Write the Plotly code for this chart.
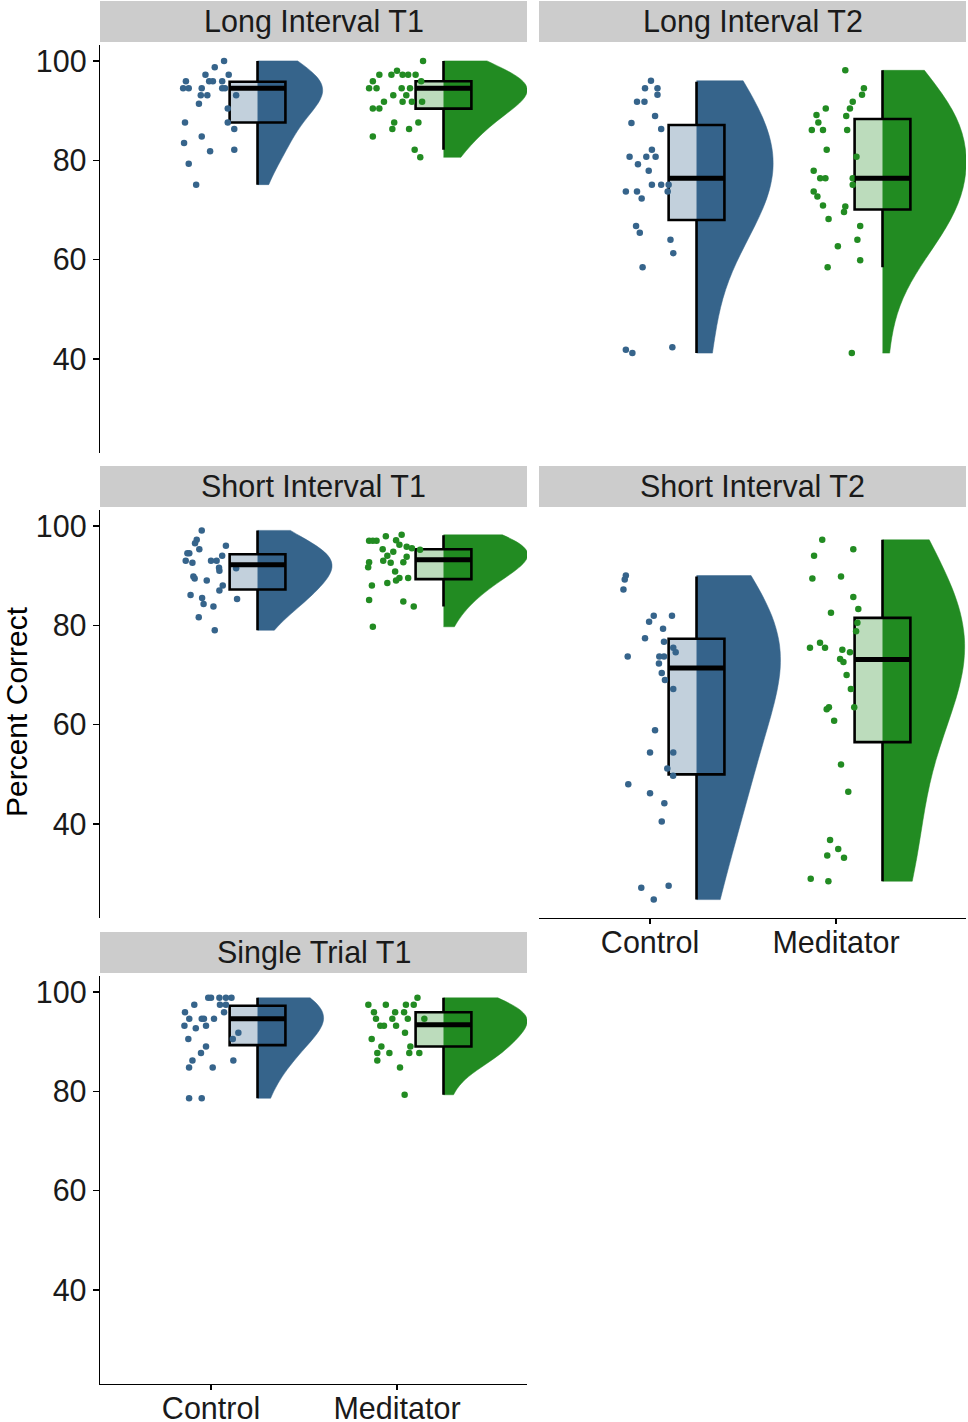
import numpy as np
from plotly.graph_objects import Figure, Violin, Box, Scatter

panels = ['Long Interval T1', 'Long Interval T2', 'Short Interval T1',
          'Short Interval T2', 'Single Trial T1']
groups = ['Control', 'Meditator']
y_ticks = [40, 60, 80, 100]

# percent correct of every participant, and the sideways jitter of its dot
long_t1_control = [100, 98.7, 97.2, 97.2, 95.9, 95.9, 95.9, 95.9, 94.5, 94.5, 94.5, 94.5,
                   94.5, 93.1, 93.1, 93.1, 91.4, 90.4, 87.6, 87.6, 86.3, 84.8, 83.5, 81.8,
                   82.1, 79.3, 75.1]
long_t1_control_jitter = [0.07, 0.02, -0.03, 0.095, -0.135, -0.01, 0.01, 0.06, -0.15, -0.12,
                          -0.05, 0.06, 0.075, -0.055, -0.02, 0.135, -0.065, 0.09, -0.14, 0.09,
                          0.125, -0.05, -0.145, -0.005, 0.125, -0.12, -0.08]
long_t1_meditator = [100, 97.2, 97.2, 98.0, 97.2, 97.2, 97.2, 95.9, 94.5, 94.5, 94.5, 94.5,
                     95.9, 93.1, 93.1, 91.8, 91.8, 91.8, 91.8, 90.4, 90.4, 87.6, 87.6, 86.3,
                     86.3, 84.8, 82.1, 80.6]
long_t1_meditator_jitter = [0.14, -0.095, -0.03, 0.0, 0.03, 0.06, 0.10, -0.13, -0.15, -0.11,
                            0.025, 0.07, 0.13, -0.02, 0.05, -0.07, 0.03, 0.08, 0.135, -0.13,
                            -0.095, -0.015, 0.115, -0.025, 0.065, -0.13, 0.095, 0.125]

long_t2_control = [96.0, 94.5, 94.5, 93.2, 91.8, 91.8, 88.9, 87.5, 86.3, 82.1, 80.7, 80.7,
                   80.7, 79.2, 77.9, 75.1, 75.1, 75.1, 73.7, 73.7, 73.7, 72.3, 66.8, 65.4,
                   64.0, 61.3, 58.5, 41.9, 41.2, 42.4]
long_t2_control_jitter = [0.005, -0.027, 0.04, 0.04, -0.07, -0.03, 0.027, -0.1, 0.06, 0.01,
                          -0.11, -0.02, 0.03, -0.065, -0.007, 0.01, 0.06, 0.1, -0.13, -0.07,
                          0.095, -0.045, -0.075, -0.055, 0.11, 0.125, -0.04, -0.13, -0.095,
                          0.12]
long_t2_meditator = [98.1, 94.5, 93.2, 91.8, 90.4, 90.4, 89.1, 88.9, 87.6, 86.1, 86.1, 86.1,
                     82.1, 80.7, 77.9, 76.4, 76.4, 76.4, 73.7, 75.1, 72.7, 70.9, 70.7, 69.6,
                     68.2, 66.8, 62.7, 64.0, 59.9, 58.5, 41.2]
long_t2_meditator_jitter = [0.05, 0.15, 0.14, 0.09, -0.055, 0.075, -0.105, 0.055, -0.095,
                            -0.13, -0.07, 0.06, -0.05, 0.11, -0.12, -0.085, -0.057, 0.09,
                            -0.12, 0.09, -0.1, -0.07, 0.05, 0.043, -0.04, 0.13, 0.01, 0.115,
                            0.13, -0.045, 0.085]

short_t1_control = [99.1, 97.2, 96.5, 95.3, 96.0, 94.5, 94.5, 94.0, 93.0, 92.6, 93.0, 93.0,
                    91.6, 91.0, 91.5, 89.8, 89.4, 89.0, 88.0, 87.0, 86.1, 85.5, 84.3, 85.3,
                    83.8, 81.6, 79.0]
short_t1_control_jitter = [-0.05, -0.077, -0.086, -0.063, 0.08, -0.117, -0.127, 0.06, -0.136,
                           -0.1, 0.0, 0.03, 0.043, 0.045, 0.135, -0.095, -0.088, -0.023, 0.063,
                           0.045, -0.11, -0.048, -0.04, 0.14, 0.013, -0.066, 0.02]
short_t1_meditator = [98.2, 97.9, 97.0, 97.0, 97.0, 97.1, 96.2, 95.3, 95.8, 95.5, 94.0, 94.8,
                      95.2, 93.0, 92.6, 92.7, 91.7, 92.7, 93.8, 90.8, 89.5, 89.0, 89.5, 88.5,
                      88.0, 85.1, 84.8, 83.8, 79.7]
short_t1_meditator_jitter = [0.025, -0.06, -0.15, -0.11, -0.13, -0.005, 0.013, -0.077, 0.052,
                             0.08, -0.052, -0.02, 0.124, -0.074, -0.034, -0.15, -0.155, 0.034,
                             0.052, -0.01, 0.013, -0.005, 0.06, -0.052, -0.135, -0.15, 0.034,
                             0.09, -0.13]

short_t2_control = [90.0, 89.2, 87.2, 81.9, 81.9, 80.7, 79.3, 77.4, 76.7, 75.5, 74.6, 73.7,
                    73.7, 73.7, 72.3, 70.4, 69.0, 67.2, 58.9, 54.4, 54.4, 51.2, 49.7, 48.0,
                    46.2, 44.2, 40.5, 27.2, 27.6, 24.8]
short_t2_control_jitter = [-0.13, -0.136, -0.143, 0.02, 0.118, -0.005, 0.07, -0.027, 0.075,
                           0.125, 0.138, -0.12, 0.05, 0.075, 0.048, 0.063, 0.08, 0.125, 0.027,
                           0.0, 0.125, 0.093, 0.124, -0.117, 0.0, 0.077, 0.063, -0.047, 0.1,
                           0.02]
short_t2_meditator = [97.2, 95.3, 94.0, 89.4, 89.8, 85.7, 83.3, 82.5, 80.5, 78.8, 75.5, 76.5,
                      75.5, 75.1, 74.6, 73.2, 72.6, 70.0, 67.2, 63.5, 63.1, 63.5, 60.8, 52.0,
                      46.5, 36.8, 35.0, 33.7, 33.2, 29.0, 28.5]
short_t2_meditator_jitter = [-0.074, 0.093, -0.118, -0.127, 0.027, 0.093, 0.12, -0.027, 0.115,
                             0.108, -0.14, -0.086, -0.059, 0.034, 0.075, 0.022, 0.04, 0.057,
                             0.08, -0.038, -0.05, 0.098, -0.01, 0.027, 0.066, -0.032, 0.012,
                             -0.047, 0.043, -0.136, -0.041]

single_t1_control = [98.8, 98.8, 98.8, 98.8, 98.8, 97.4, 97.4, 97.4, 95.9, 95.9, 94.6, 94.6,
                     94.6, 94.6, 93.2, 92.7, 93.2, 91.8, 90.5, 90.5, 89.0, 87.7, 86.2, 84.8,
                     86.2, 84.8, 78.6, 78.6]
single_t1_control_jitter = [-0.015, 0.0, 0.045, 0.08, 0.11, 0.048, 0.08, -0.09, 0.07, -0.14,
                            -0.117, -0.05, -0.038, 0.016, -0.143, -0.082, -0.027, 0.147,
                            -0.122, 0.117, -0.027, -0.054, -0.1, -0.118, 0.12, 0.009, -0.118,
                            -0.05]
single_t1_meditator = [98.8, 97.4, 97.4, 97.4, 97.4, 95.9, 95.9, 95.9, 94.6, 94.6, 94.6, 94.6,
                       93.2, 93.2, 93.2, 91.8, 90.5, 89.0, 89.0, 87.7, 87.7, 87.7, 87.7, 86.2,
                       84.8, 79.3]
single_t1_meditator_jitter = [0.11, -0.154, -0.06, 0.048, 0.09, -0.124, -0.01, 0.038, -0.113,
                              -0.025, 0.058, 0.147, -0.09, -0.07, -0.005, 0.043, -0.136, -0.084,
                              0.072, -0.106, -0.041, 0.066, 0.12, -0.106, 0.016, 0.041]

# box statistics: lower whisker, Q1, median, Q3, upper whisker
long_t1_control_box = [75.1, 87.6, 94.5, 95.8, 100]
long_t1_meditator_box = [82.1, 90.4, 94.5, 95.9, 100]
long_t2_control_box = [41.2, 68.0, 76.4, 87.1, 95.8]
long_t2_meditator_box = [58.5, 70.1, 76.4, 88.3, 98.1]
short_t1_control_box = [79.0, 87.2, 92.2, 94.3, 99.1]
short_t1_meditator_box = [83.8, 89.3, 93.2, 95.3, 98.1]
short_t2_control_box = [24.8, 50.0, 71.4, 77.3, 89.8]
short_t2_meditator_box = [28.5, 56.5, 73.1, 81.5, 97.2]
single_t1_control_box = [78.6, 89.3, 94.6, 97.2, 98.8]
single_t1_meditator_box = [79.3, 89.0, 93.4, 95.9, 98.8]

COLOURS = {'Control': ('#36648B', 'rgba(54,100,139,0.3)'),
           'Meditator': ('#228B22', 'rgba(34,139,34,0.3)')}
FONT = 'Liberation Sans, Arial, sans-serif'
W, H = 968, 1422
SMOOTH = 1.4  # extra smoothing of the clouds compared to Silverman's rule


def bandwidth(values):
    """
    Ширина ядра для оцінки щільності: правило Сільвермана, помножене на SMOOTH.
    """
    sample = np.asarray(values, dtype=float)
    return SMOOTH * 1.059 * sample.std(ddof=1) * len(sample) ** -0.2


def main():
    """
    Raincloud-графік: напівскрипка праворуч, ящик з вусами на її краю та
    розсіяні точки ліворуч, п'ять фасетів у сітці 3x2.
    """
    figure = Figure()
    data = {
        'Long Interval T1': [(long_t1_control, long_t1_control_jitter, long_t1_control_box),
                             (long_t1_meditator, long_t1_meditator_jitter, long_t1_meditator_box)],
        'Long Interval T2': [(long_t2_control, long_t2_control_jitter, long_t2_control_box),
                             (long_t2_meditator, long_t2_meditator_jitter, long_t2_meditator_box)],
        'Short Interval T1': [(short_t1_control, short_t1_control_jitter, short_t1_control_box),
                              (short_t1_meditator, short_t1_meditator_jitter, short_t1_meditator_box)],
        'Short Interval T2': [(short_t2_control, short_t2_control_jitter, short_t2_control_box),
                              (short_t2_meditator, short_t2_meditator_jitter, short_t2_meditator_box)],
        'Single Trial T1': [(single_t1_control, single_t1_control_jitter, single_t1_control_box),
                            (single_t1_meditator, single_t1_meditator_jitter, single_t1_meditator_box)],
    }
    # half-width of every cloud, as drawn in the reference
    spread = {'Long Interval T1': (0.35, 0.45), 'Long Interval T2': (0.41, 0.45),
              'Short Interval T1': (0.40, 0.45), 'Short Interval T2': (0.45, 0.44),
              'Single Trial T1': (0.355, 0.45)}
    # (row, column) of every facet
    grid = {'Long Interval T1': (1, 1), 'Long Interval T2': (1, 2),
            'Short Interval T1': (2, 1), 'Short Interval T2': (2, 2),
            'Single Trial T1': (3, 1)}
    columns = {1: (100, 527), 2: (539, 966)}
    tops = {1: 45, 2: 510, 3: 976}
    height = 408
    tick_font = {'size': 30.5, 'color': '#1a1a1a', 'family': FONT}
    shapes, annotations = [], []

    for index, panel in enumerate(panels, start=1):
        row, column = grid[panel]
        suffix = '' if index == 1 else str(index)
        left, right = columns[column]
        top = tops[row]
        bottom_axis = panel in ('Short Interval T2', 'Single Trial T1')
        left_axis = column == 1

        for position, group in enumerate(groups, start=1):
            values, jitter, stats = data[panel][position - 1]
            colour, light = COLOURS[group]
            figure.add_trace(Violin(
                x0=position + 0.25, y=values, side='positive', width=2 * spread[panel][position - 1],
                bandwidth=bandwidth(values), spanmode='hard', points=False, fillcolor=colour,
                opacity=1, line={'color': colour, 'width': 0.5}, hoverinfo='skip',
                xaxis='x' + suffix, yaxis='y' + suffix
            ))
            figure.add_trace(Box(
                x=[position + 0.25], lowerfence=[stats[0]], q1=[stats[1]], median=[stats[2]],
                q3=[stats[3]], upperfence=[stats[4]], width=0.3, whiskerwidth=0,
                fillcolor=light, line={'color': 'black', 'width': 2.6}, boxpoints=False,
                hoverinfo='skip', xaxis='x' + suffix, yaxis='y' + suffix
            ))
            figure.add_trace(Scatter(
                x=[position + j for j in jitter], y=values, mode='markers',
                marker={'color': colour, 'size': 6.5}, hoverinfo='skip',
                xaxis='x' + suffix, yaxis='y' + suffix
            ))
            figure.add_trace(Scatter(
                x=[position + 0.1, position + 0.4], y=[stats[2], stats[2]], mode='lines',
                line={'color': 'black', 'width': 5}, hoverinfo='skip',
                xaxis='x' + suffix, yaxis='y' + suffix
            ))

        figure.update_layout({
            'xaxis' + suffix: dict(
                domain=[left / W, right / W], anchor='y' + suffix, type='linear',
                range=[0.403, 2.699], tickvals=[1, 2], ticktext=groups,
                showline=bottom_axis, linecolor='black', linewidth=1.3,
                ticks='outside' if bottom_axis else '', ticklen=5, tickcolor='black',
                tickwidth=1.3, showticklabels=bottom_axis, showgrid=False, zeroline=False,
                tickfont=tick_font, ticklabelstandoff=-8, fixedrange=True
            ),
            'yaxis' + suffix: dict(
                domain=[1 - (top + height) / H, 1 - top / H], anchor='x' + suffix,
                range=[21.1, 103.2], tickvals=y_ticks,
                showline=left_axis, linecolor='black', linewidth=1.3,
                ticks='outside' if left_axis else '', ticklen=6, tickcolor='black',
                tickwidth=1.3, showticklabels=left_axis, showgrid=False, zeroline=False,
                tickfont=tick_font, ticklabelstandoff=0, fixedrange=True
            ),
        })

        shapes.append(dict(
            type='rect', xref='paper', yref='paper', x0=left / W, x1=right / W,
            y0=1 - (top - 3) / H, y1=1 - (top - 44) / H,
            fillcolor='#CCCCCC', line={'width': 0}, layer='below'
        ))
        annotations.append(dict(
            text=panel, xref='paper', yref='paper', x=(left + right) / 2 / W,
            y=1 - (top - 23.5) / H, showarrow=False, xanchor='center', yanchor='middle',
            font={'size': 30.5, 'color': '#1a1a1a', 'family': FONT}
        ))

    annotations.append(dict(
        text='Percent Correct', xref='paper', yref='paper', x=16 / W, y=1 - 712 / H,
        textangle=-90, showarrow=False, xanchor='center', yanchor='middle',
        font={'size': 30, 'color': 'black', 'family': FONT}
    ))

    figure.update_layout(
        width=W, height=H, showlegend=False,
        paper_bgcolor='white', plot_bgcolor='white',
        margin={'t': 0, 'r': 0, 'b': 0, 'l': 0, 'autoexpand': False},
        shapes=shapes, annotations=annotations
    )
    figure.write_html(
        'out.html',
        config={'displayModeBar': False, 'staticPlot': True},
        post_script="document.body.style.margin = '0'; document.body.style.overflow = 'hidden';"
    )


if __name__ == '__main__':
    main()
